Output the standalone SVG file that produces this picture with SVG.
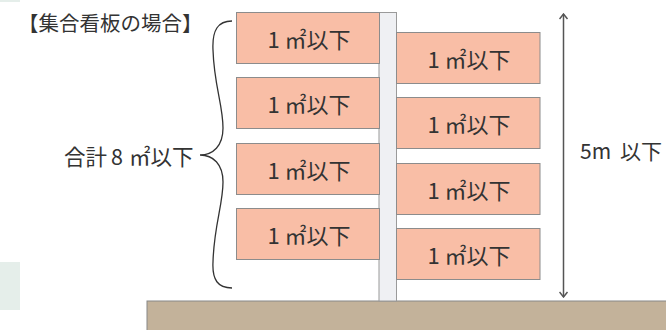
<svg xmlns="http://www.w3.org/2000/svg" width="666" height="330" viewBox="0 0 666 330">
<style>
text{font-family:"Noto Sans CJK JP","Noto Sans",sans-serif;fill:#333}
.sign rect{fill:#f9bea6;stroke:#8c8c8c;stroke-width:1}
.sign text{font-size:22px;text-anchor:middle}
.lbl{font-size:20.5px}
.lbl2{font-size:21px}
.lbl3{font-size:21.5px}
</style>
<defs>
<marker id="ah" viewBox="0 0 10 10" refX="9" refY="5" markerWidth="10" markerHeight="10" markerUnits="userSpaceOnUse" orient="auto-start-reverse">
<path d="M4,1 L9,5 L4,9" fill="none" stroke="#555" stroke-width="1.5"/>
</marker>
</defs>
<rect x="0" y="0" width="20" height="2" fill="#e5eeea"/>
<rect x="0" y="262" width="20" height="48" fill="#e5eeea"/>
<rect id="ground" x="147" y="301" width="520" height="30" fill="#c3b29a" stroke="#888" stroke-width="1"/>
<rect id="pole" x="379" y="12.5" width="17.5" height="288.5" fill="#eff0f3" stroke="#9a9a9a" stroke-width="1"/>
<text class="lbl" x="18" y="31">【集合看板の場合】</text>
<g id="s1" class="sign"><rect x="236.5" y="12.5" width="143" height="51"/><text x="309" y="48">1 ㎡以下</text></g>
<g id="s2" class="sign"><rect x="236.5" y="77.5" width="143" height="51"/><text x="309" y="113">1 ㎡以下</text></g>
<g id="s3" class="sign"><rect x="236.5" y="143.5" width="143" height="51"/><text x="309" y="179">1 ㎡以下</text></g>
<g id="s4" class="sign"><rect x="236.5" y="208.5" width="143" height="51"/><text x="309" y="244">1 ㎡以下</text></g>
<g id="s5" class="sign"><rect x="396.5" y="32.5" width="143.5" height="51"/><text x="469" y="68">1 ㎡以下</text></g>
<g id="s6" class="sign"><rect x="396.5" y="97.5" width="143.5" height="51"/><text x="469" y="133">1 ㎡以下</text></g>
<g id="s7" class="sign"><rect x="396.5" y="163.5" width="143.5" height="51"/><text x="469" y="199">1 ㎡以下</text></g>
<g id="s8" class="sign"><rect x="396.5" y="228.5" width="143.5" height="51"/><text x="469" y="264">1 ㎡以下</text></g>
<g id="connectors" fill="none">
<path id="brace" d="M232,21 C218,21 212,30 213,50 C214,85 223,105 223,128 C223,146 213,155 200,155 C213,155 223,164 223,182 C223,205 214,225 213,262 C212,280 218,288 232,288" stroke="#333" stroke-width="1.3"/>
<line id="height" x1="563.5" y1="14" x2="563.5" y2="297" stroke="#555" stroke-width="1.5" marker-start="url(#ah)" marker-end="url(#ah)"/>
</g>
<text class="lbl3" y="165"><tspan x="64">合計</tspan><tspan x="111">8</tspan><tspan x="129">㎡以下</tspan></text>
<text class="lbl2" y="159"><tspan x="580">5m</tspan><tspan x="620">以下</tspan></text>
</svg>
